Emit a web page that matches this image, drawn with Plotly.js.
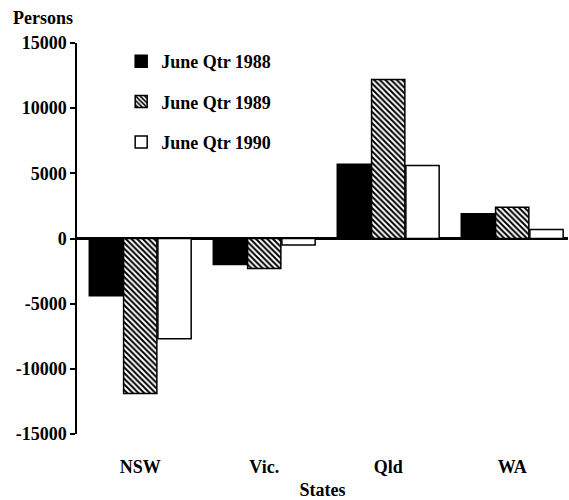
<!DOCTYPE html>
<html>
<head>
<meta charset="utf-8">
<script src="https://cdn.plot.ly/plotly-3.0.1.min.js"></script>
<style>html,body{margin:0;padding:0;background:#fff;}#chart{width:569px;height:500px;}</style>
</head>
<body>
<div id="chart"></div>
<script>
const states = ['NSW', 'Vic.', 'Qld', 'WA'];
const seriesNames = ['June Qtr 1988', 'June Qtr 1989', 'June Qtr 1990'];
const q1988 = [-4400, -2000, 5700, 1900];
const q1989 = [-11900, -2300, 12200, 2400];
const q1990 = [-7700, -500, 5600, 700];
const yTicks = [-15000, -10000, -5000, 0, 5000, 10000, 15000];
const yTickText = ['-15000', '-10000', '-5000', '0', '5000', '10000', '15000'];

const font = 'Liberation Serif';
const line = {color: '#000', width: 1.5};

const traces = [
  {type: 'bar', name: seriesNames[0], x: states, y: q1988, legendgroup: 'a',
   marker: {color: '#000', line: line}},
  {type: 'bar', name: seriesNames[1], x: states, y: q1989, legendgroup: 'b',
   marker: {color: '#fff', line: line,
            pattern: {shape: '\\', fgcolor: '#000', bgcolor: '#fff', size: 4, solidity: 0.5}}},
  {type: 'bar', name: seriesNames[2], x: states, y: q1990, legendgroup: 'c',
   marker: {color: '#fff', line: line}}
];

const layout = {
  width: 569, height: 500,
  margin: {l: 77, r: 1, t: 43, b: 66},
  paper_bgcolor: '#fff', plot_bgcolor: '#fff',
  font: {family: font, size: 18, color: '#000', weight: 'bold'},
  barmode: 'group', bargap: 0.17, bargroupgap: 0.03,
  showlegend: true,
  legend: {x: 0.09, y: 1.0, xanchor: 'left', yanchor: 'top', tracegroupgap: 14,
           font: {family: font, size: 18, color: '#000', weight: 'bold'},
           bgcolor: 'rgba(0,0,0,0)'},
  xaxis: {type: 'category', range: [-0.51, 3.45], showline: false, ticks: '',
          showgrid: false, zeroline: false, ticklabelstandoff: 20,
          tickfont: {family: font, size: 18, weight: 'bold'},
          title: {text: 'States', standoff: 11, font: {family: font, size: 18, weight: 'bold'}}},
  yaxis: {range: [-15000, 15000], tickvals: yTicks, ticktext: yTickText,
          showline: true, linecolor: '#000', linewidth: 1.5,
          ticks: 'outside', ticklen: 5, tickwidth: 1.5, tickcolor: '#000',
          showgrid: false, zeroline: true, zerolinecolor: '#000', zerolinewidth: 2.5,
          tickfont: {family: font, size: 18, weight: 'bold'}},
  annotations: [
    {text: 'Persons', xref: 'paper', yref: 'paper', x: -0.07, y: 1.0, yshift: 25,
     xanchor: 'center', yanchor: 'middle', showarrow: false,
     font: {family: font, size: 18, weight: 'bold'}}
  ]
};

Plotly.newPlot('chart', traces, layout, {displayModeBar: false});
</script>
</body>
</html>
